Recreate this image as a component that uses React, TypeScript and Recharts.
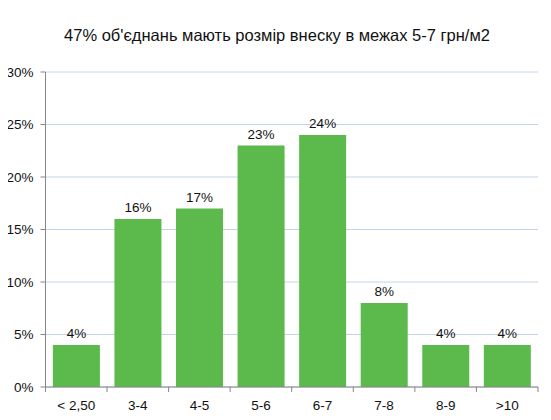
import React from "react";
import { BarChart, Bar, XAxis, YAxis, CartesianGrid, LabelList } from "recharts";

const categories = ["< 2,50", "3-4", "4-5", "5-6", "6-7", "7-8", "8-9", ">10"];
const shares = [4, 16, 17, 23, 24, 8, 4, 4];
const yTicks = [0, 5, 10, 15, 20, 25, 30];

const data = categories.map((c, i) => ({ label: c, value: shares[i] }));

const font = "'Liberation Sans', Arial, sans-serif";
const axisColor = "#868686";

// category ticks sit between bars, labels in the middle
function BandTick(props: any) {
  const { x, y, payload, index, visibleTicksCount } = props;
  const band = 61.6;
  const left = x - band / 2;
  const right = x + band / 2;
  return (
    <g>
      <line x1={left} y1={y - 8} x2={left} y2={y - 3} stroke={axisColor} />
      {index === visibleTicksCount - 1 && (
        <line x1={right} y1={y - 8} x2={right} y2={y - 3} stroke={axisColor} />
      )}
      <text x={x} y={y + 15} textAnchor="middle" fontSize={13.5} fill="#111" fontFamily={font}>
        {payload.value}
      </text>
    </g>
  );
}

export default function App() {
  return (
    <div style={{ position: "relative", width: 551, height: 420, margin: -8, background: "#fff" }}>
      <div
        style={{
          position: "absolute",
          top: 26,
          left: 0,
          width: 554,
          textAlign: "center",
          fontFamily: font,
          fontSize: 16.5,
          color: "#111",
        }}
      >
        47% об'єднань мають розмір внеску в межах 5-7 грн/м2
      </div>
      <BarChart
        width={551}
        height={420}
        data={data}
        margin={{ top: 72, right: 13, left: 0, bottom: 0 }}
        barCategoryGap="12%"
      >
        <CartesianGrid stroke="#c3d4ea" vertical={false} />
        <XAxis
          dataKey="label"
          axisLine={{ stroke: axisColor }}
          tickLine={false}
          tick={<BandTick />}
          interval={0}
          height={33}
        />
        <YAxis
          ticks={yTicks}
          domain={[0, 30]}
          tickFormatter={(v) => `${v}%`}
          axisLine={{ stroke: axisColor }}
          tickLine={{ stroke: axisColor }}
          tickSize={5}
          tickMargin={7}
          width={45.5}
          tick={{ fontSize: 13.5, fill: "#111", fontFamily: font }}
        />
        <Bar dataKey="value" fill="#5cb94c" isAnimationActive={false}>
          <LabelList
            dataKey="value"
            position="top"
            offset={7}
            formatter={(v: any) => `${v}%`}
            style={{ fontSize: 13.5, fill: "#111", fontFamily: font }}
          />
        </Bar>
      </BarChart>
    </div>
  );
}
